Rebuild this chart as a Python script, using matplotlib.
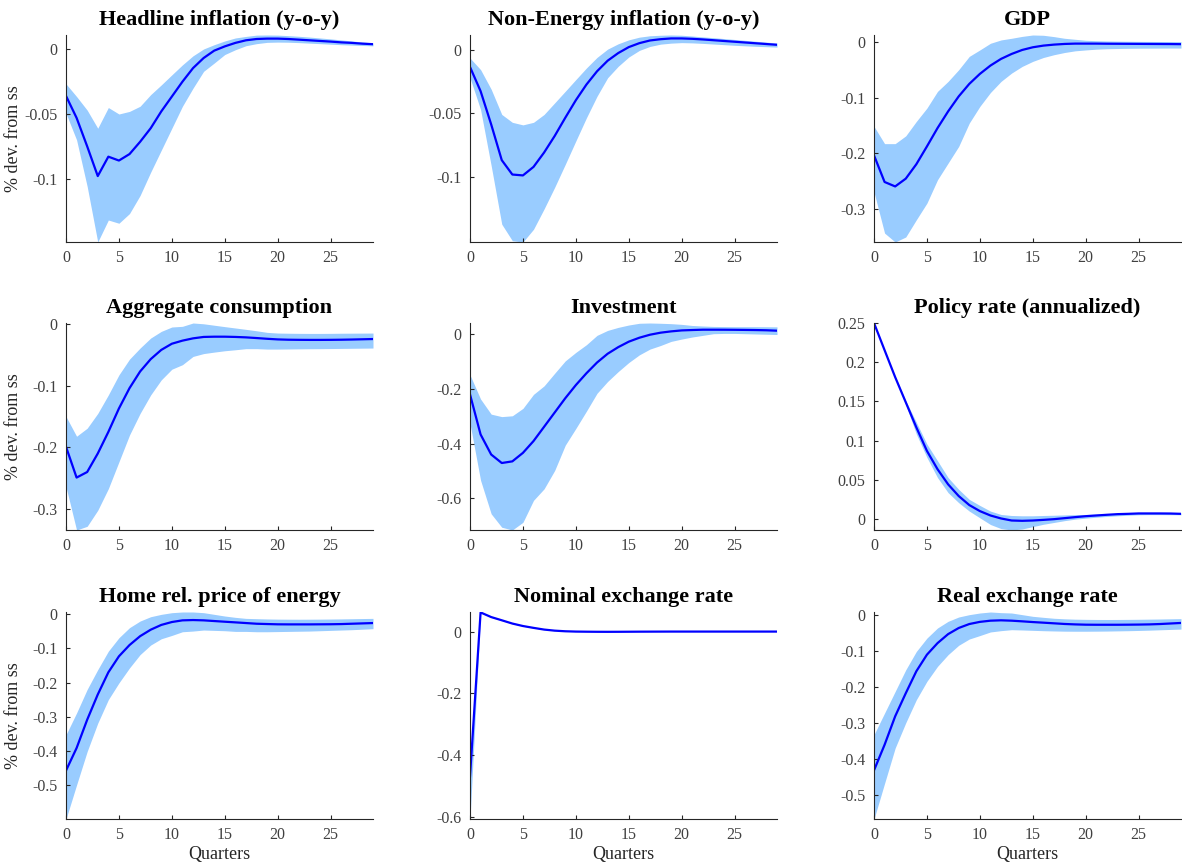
import matplotlib
matplotlib.use("Agg")
import matplotlib.pyplot as plt
import numpy as np
from matplotlib.ticker import FuncFormatter

plt.rcParams['font.family'] = ['Liberation Serif', 'DejaVu Serif']

quarters = np.arange(30)

titles = ['Headline inflation (y-o-y)', 'Non-Energy inflation (y-o-y)', 'GDP',
          'Aggregate consumption', 'Investment', 'Policy rate (annualized)',
          'Home rel. price of energy', 'Nominal exchange rate', 'Real exchange rate']

# headline inflation
hl_mean = [-0.036, -0.053, -0.075, -0.098, -0.083, -0.086, -0.081, -0.0715, -0.061, -0.048,
           -0.0365, -0.025, -0.0145, -0.0067, -0.001, 0.0023, 0.005, 0.007, 0.008, 0.0083,
           0.0083, 0.008, 0.0075, 0.007, 0.0065, 0.006, 0.0054, 0.005, 0.0044, 0.004]
hl_hi = [-0.0267, -0.0365, -0.047, -0.061, -0.045, -0.05, -0.048, -0.044, -0.035, -0.0275,
         -0.0197, -0.012, -0.005, 0.0003, 0.0036, 0.0065, 0.0088, 0.010, 0.011, 0.0111,
         0.011, 0.0106, 0.0101, 0.0095, 0.0088, 0.0081, 0.0073, 0.0065, 0.0057, 0.005]
hl_lo = [-0.0495, -0.070, -0.106, -0.149, -0.132, -0.1345, -0.127, -0.113, -0.095, -0.078,
         -0.061, -0.044, -0.030, -0.017, -0.0106, -0.004, -0.0003, 0.0028, 0.0044, 0.0054,
         0.0056, 0.0055, 0.0052, 0.0048, 0.0044, 0.0040, 0.0036, 0.0033, 0.003, 0.0027]

# non-energy inflation
ne_mean = [-0.0135, -0.0325, -0.0586, -0.0867, -0.098, -0.0987, -0.092, -0.0807, -0.0677, -0.0534,
           -0.0396, -0.0273, -0.0169, -0.0086, -0.0026, 0.0021, 0.0052, 0.0073, 0.0083, 0.0089,
           0.0089, 0.0086, 0.0081, 0.0075, 0.0069, 0.0063, 0.0057, 0.0051, 0.0045, 0.0039]
ne_hi = [-0.0065, -0.0156, -0.031, -0.0508, -0.057, -0.059, -0.057, -0.0508, -0.0417, -0.0326,
         -0.0234, -0.0143, -0.006, 0.0005, 0.0047, 0.0078, 0.0099, 0.011, 0.0114, 0.0116,
         0.0114, 0.0108, 0.0101, 0.0095, 0.0088, 0.0081, 0.0074, 0.0067, 0.006, 0.0053]
ne_lo = [-0.022, -0.047, -0.091, -0.137, -0.150, -0.151, -0.141, -0.125, -0.108, -0.090,
         -0.0716, -0.0534, -0.0365, -0.022, -0.013, -0.0057, -0.0005, 0.0026, 0.0044, 0.0052,
         0.0056, 0.0054, 0.0050, 0.0045, 0.0040, 0.0035, 0.0031, 0.0027, 0.0024, 0.0021]

# GDP
gdp_mean = [-0.204, -0.252, -0.26, -0.246, -0.22, -0.188, -0.155, -0.125, -0.098, -0.0755,
            -0.0575, -0.0425, -0.0305, -0.0216, -0.0144, -0.0096, -0.0066, -0.0048, -0.0036, -0.003,
            -0.003, -0.003, -0.0032, -0.0033, -0.0034, -0.0035, -0.0036, -0.0037, -0.0038, -0.004]
gdp_hi = [-0.152, -0.183, -0.183, -0.169, -0.143, -0.119, -0.089, -0.071, -0.050, -0.026,
          -0.0144, -0.0024, 0.0036, 0.0066, 0.010, 0.0125, 0.012, 0.0096, 0.0066, 0.0048,
          0.003, 0.0022, 0.0017, 0.0014, 0.0012, 0.001, 0.0009, 0.0008, 0.0007, 0.0006]
gdp_lo = [-0.27, -0.344, -0.36, -0.351, -0.32, -0.29, -0.248, -0.218, -0.188, -0.146,
          -0.116, -0.091, -0.071, -0.056, -0.044, -0.035, -0.028, -0.023, -0.019, -0.016,
          -0.0144, -0.013, -0.0122, -0.0118, -0.0115, -0.0113, -0.0112, -0.0111, -0.011, -0.011]

# aggregate consumption
con_mean = [-0.199, -0.249, -0.24, -0.21, -0.175, -0.137, -0.104, -0.077, -0.057, -0.042,
            -0.032, -0.027, -0.0233, -0.021, -0.0206, -0.0206, -0.021, -0.0217, -0.0228, -0.024,
            -0.025, -0.0255, -0.0257, -0.0258, -0.0258, -0.0257, -0.0255, -0.0252, -0.0248, -0.0244]
con_hi = [-0.15, -0.182, -0.169, -0.145, -0.115, -0.0825, -0.057, -0.039, -0.0228, -0.012,
          -0.0049, -0.0038, 0.0016, 0.0003, -0.002, -0.0043, -0.0065, -0.0087, -0.011, -0.0136,
          -0.0147, -0.015, -0.0152, -0.0153, -0.0153, -0.0152, -0.015, -0.0149, -0.0148, -0.0147]
con_lo = [-0.264, -0.334, -0.328, -0.302, -0.267, -0.2235, -0.18, -0.145, -0.115, -0.0906,
          -0.0733, -0.066, -0.0526, -0.048, -0.0456, -0.0434, -0.0418, -0.040, -0.040, -0.0407,
          -0.0407, -0.0405, -0.0403, -0.0401, -0.040, -0.0398, -0.0396, -0.0394, -0.0392, -0.039]

# investment
inv_mean = [-0.221, -0.367, -0.44, -0.471, -0.465, -0.434, -0.391, -0.339, -0.287, -0.235,
            -0.187, -0.144, -0.105, -0.073, -0.049, -0.029, -0.0146, -0.0037, 0.0037, 0.0085,
            0.012, 0.0134, 0.0146, 0.0146, 0.0145, 0.0142, 0.0138, 0.0133, 0.0125, 0.011]
inv_hi = [-0.15, -0.238, -0.293, -0.302, -0.299, -0.272, -0.221, -0.19, -0.144, -0.099,
          -0.068, -0.040, -0.006, 0.012, 0.023, 0.0317, 0.038, 0.039, 0.038, 0.0366,
          0.034, 0.030, 0.028, 0.0265, 0.026, 0.0256, 0.0256, 0.0256, 0.0254, 0.025]
inv_lo = [-0.327, -0.534, -0.656, -0.705, -0.715, -0.687, -0.607, -0.565, -0.498, -0.406,
          -0.345, -0.282, -0.217, -0.174, -0.138, -0.105, -0.077, -0.056, -0.043, -0.028,
          -0.0195, -0.012, -0.006, 0.0, 0.001, 0.001, 0.0, -0.001, -0.002, -0.003]

# policy rate
pr_mean = [0.25, 0.2154, 0.181, 0.149, 0.117, 0.087, 0.0637, 0.0444, 0.0295, 0.018,
           0.0103, 0.0047, 0.0009, -0.0017, -0.0021, -0.0017, -0.0009, 0.0, 0.0013, 0.0026,
           0.0038, 0.0047, 0.0056, 0.0064, 0.0068, 0.0073, 0.0073, 0.0073, 0.0072, 0.0068]
pr_hi = [0.25, 0.2156, 0.182, 0.151, 0.1235, 0.0957, 0.0744, 0.053, 0.038, 0.0252,
         0.0175, 0.0103, 0.006, 0.0047, 0.0043, 0.0043, 0.0047, 0.005, 0.0054, 0.0058,
         0.006, 0.0065, 0.007, 0.0075, 0.008, 0.0085, 0.0085, 0.0084, 0.0082, 0.008]
pr_lo = [0.25, 0.2152, 0.18, 0.146, 0.1085, 0.0786, 0.053, 0.0338, 0.021, 0.0103,
         0.0017, -0.0068, -0.012, -0.0138, -0.0125, -0.0095, -0.0065, -0.0042, -0.0019, 0.0,
         0.0013, 0.0025, 0.0035, 0.0043, 0.005, 0.0056, 0.0058, 0.0058, 0.0057, 0.0056]

# home relative price of energy
en_mean = [-0.458, -0.392, -0.309, -0.235, -0.170, -0.123, -0.090, -0.064, -0.045, -0.031,
           -0.0225, -0.0176, -0.0167, -0.0176, -0.0196, -0.0216, -0.0235, -0.0255, -0.0275, -0.0284,
           -0.0292, -0.0294, -0.0294, -0.0294, -0.0292, -0.029, -0.0285, -0.0275, -0.0265, -0.0255]
en_hi = [-0.353, -0.289, -0.22, -0.162, -0.108, -0.0686, -0.039, -0.0196, -0.0069, 0.0,
         0.0049, 0.0069, 0.0069, 0.0049, 0.0, -0.0049, -0.0088, -0.0118, -0.0127, -0.0135,
         -0.014, -0.0142, -0.0143, -0.0142, -0.014, -0.0137, -0.0133, -0.0128, -0.0123, -0.0118]
en_lo = [-0.6, -0.5, -0.402, -0.319, -0.25, -0.201, -0.157, -0.118, -0.09, -0.0716,
         -0.0618, -0.051, -0.049, -0.046, -0.047, -0.048, -0.05, -0.05, -0.051, -0.051,
         -0.0505, -0.05, -0.0495, -0.049, -0.048, -0.047, -0.046, -0.045, -0.0435, -0.042]

# nominal exchange rate
ner_mean = [-0.469, 0.062, 0.047, 0.0366, 0.026, 0.018, 0.012, 0.0065, 0.003, 0.001,
            0.0, -0.0004, -0.0007, -0.0008, -0.0007, -0.0005, -0.0003, -0.0002, -0.0001, 0.0,
            0.0, 0.0, 0.0, 0.0, 0.0, 0.0, 0.0, 0.0, 0.0, 0.0]
ner_hi = [-0.44, 0.0634, 0.048, 0.0375, 0.0268, 0.0187, 0.0126, 0.007, 0.0034, 0.0013,
          0.0003, -0.0002, -0.0005, -0.0006, -0.0005, -0.0003, -0.0002, -0.0001, 0.0, 0.0001,
          0.0001, 0.0001, 0.0001, 0.0001, 0.0001, 0.0001, 0.0001, 0.0001, 0.0001, 0.0001]
ner_lo = [-0.607, 0.0606, 0.046, 0.0357, 0.0252, 0.0173, 0.0114, 0.006, 0.0026, 0.0007,
          -0.0003, -0.0006, -0.0009, -0.001, -0.0009, -0.0007, -0.0004, -0.0003, -0.0002, -0.0001,
          -0.0001, -0.0001, -0.0001, -0.0001, -0.0001, -0.0001, -0.0001, -0.0001, -0.0001, -0.0001]

# real exchange rate
rer_mean = [-0.432, -0.361, -0.282, -0.218, -0.157, -0.111, -0.079, -0.054, -0.037, -0.026,
            -0.020, -0.0167, -0.0157, -0.0167, -0.0185, -0.0205, -0.0222, -0.024, -0.0258, -0.027,
            -0.0278, -0.028, -0.028, -0.028, -0.0278, -0.0275, -0.027, -0.026, -0.0245, -0.023]
rer_hi = [-0.333, -0.273, -0.213, -0.153, -0.102, -0.065, -0.037, -0.0185, -0.0065, 0.0,
          0.0046, 0.0074, 0.0056, 0.0046, 0.0, -0.0046, -0.0074, -0.010, -0.0115, -0.0125,
          -0.013, -0.0133, -0.0134, -0.0133, -0.0131, -0.0128, -0.0124, -0.012, -0.0115, -0.011]
rer_lo = [-0.567, -0.468, -0.37, -0.30, -0.236, -0.185, -0.1435, -0.111, -0.085, -0.0676,
          -0.058, -0.048, -0.0444, -0.0417, -0.0425, -0.0435, -0.0445, -0.0452, -0.0458, -0.046,
          -0.046, -0.0458, -0.0455, -0.045, -0.0445, -0.0438, -0.043, -0.042, -0.041, -0.040]

series = [(hl_mean, hl_lo, hl_hi), (ne_mean, ne_lo, ne_hi), (gdp_mean, gdp_lo, gdp_hi),
          (con_mean, con_lo, con_hi), (inv_mean, inv_lo, inv_hi), (pr_mean, pr_lo, pr_hi),
          (en_mean, en_lo, en_hi), (ner_mean, ner_lo, ner_hi), (rer_mean, rer_lo, rer_hi)]

yticks = [[-0.1, -0.05, 0], [-0.1, -0.05, 0], [-0.3, -0.2, -0.1, 0],
          [-0.3, -0.2, -0.1, 0], [-0.6, -0.4, -0.2, 0], [0, 0.05, 0.1, 0.15, 0.2, 0.25],
          [-0.5, -0.4, -0.3, -0.2, -0.1, 0], [-0.6, -0.4, -0.2, 0], [-0.5, -0.4, -0.3, -0.2, -0.1, 0]]

W, H = 1182, 865
fig = plt.figure(figsize=(W / 100, H / 100), dpi=100)

col_left = [66, 470, 874]
row_top = [35, 323, 612]
ax_w, ax_h = 307, 207

fmt = FuncFormatter(lambda v, p: '%g' % round(v, 4))

for i, (m, lo, hi) in enumerate(series):
    r, c = divmod(i, 3)
    ax = fig.add_axes([col_left[c] / W, 1 - (row_top[r] + ax_h) / H, ax_w / W, ax_h / H])
    ax.fill_between(quarters, lo, hi, color='#99ccff', linewidth=0)
    ax.plot(quarters, m, color='#0000ff', linewidth=1.6)
    ax.set_xlim(0, 29)
    ax.set_ylim(min(lo), max(hi))
    ax.set_xticks([0, 5, 10, 15, 20, 25])
    ax.set_yticks(yticks[i])
    ax.yaxis.set_major_formatter(fmt)
    ax.set_title(titles[i], fontsize=16, fontweight='bold', pad=7)
    for s in ['top', 'right']:
        ax.spines[s].set_visible(False)
    for s in ['left', 'bottom']:
        ax.spines[s].set_color('#262626')
        ax.spines[s].set_linewidth(0.8)
    ax.tick_params(direction='in', length=3, width=0.8, labelsize=11.5,
                   colors='#262626', labelcolor='#404040')
    ax.tick_params(axis='y', pad=6)
    ax.tick_params(axis='x', pad=6)
    if c == 0:
        ax.set_ylabel('% dev. from ss', fontsize=13, color='#262626')
        ax.yaxis.set_label_coords(-44 / ax_w, 0.5)
    if r == 2:
        ax.set_xlabel('Quarters', fontsize=13, color='#262626', labelpad=2)

fig.savefig('out.png', dpi=100)
